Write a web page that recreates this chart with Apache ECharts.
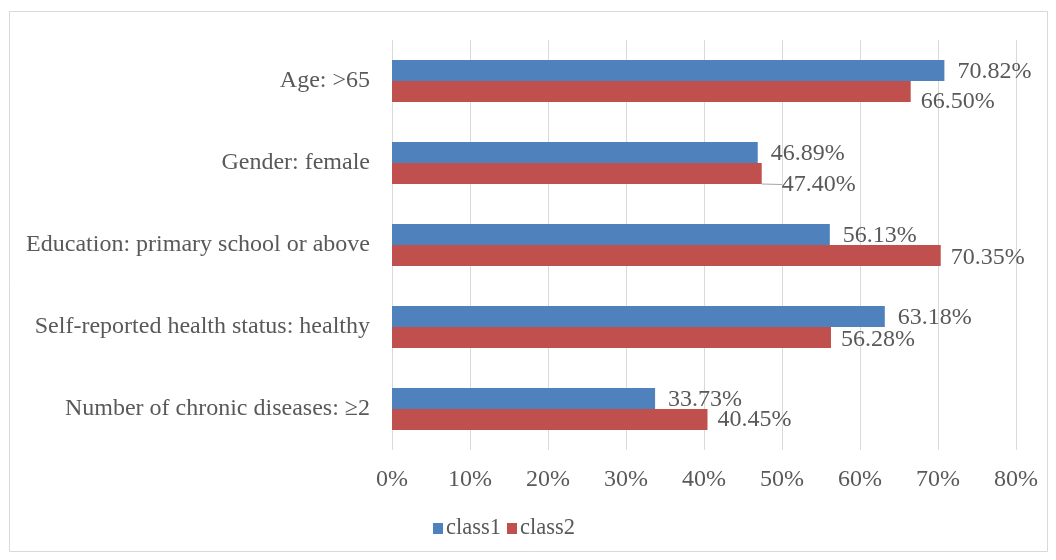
<!DOCTYPE html>
<html>
<head>
<meta charset="utf-8">
<script src="https://cdn.jsdelivr.net/npm/echarts@6/dist/echarts.min.js"></script>
<style>
html,body{margin:0;padding:0;background:#fff;}
#chart{width:1056px;height:560px;}
</style>
</head>
<body>
<div id="chart"></div>
<script>
const categories = [
  'Age: >65',
  'Gender: female',
  'Education: primary school or above',
  'Self-reported health status: healthy',
  'Number of chronic diseases: \u22652'
];
const class1 = [70.82, 46.89, 56.13, 63.18, 33.73];
const class2 = [66.50, 47.40, 70.35, 56.28, 40.45];
const xTicks = [0, 10, 20, 30, 40, 50, 60, 70, 80];

// label nudges (style only)
const class2LabelDy = [10, 11, 2, 2, 0];

const FONT = '"Liberation Serif", "Times New Roman", serif';
const TXT = '#595959';

const chart = echarts.init(document.getElementById('chart'), null, {renderer: 'canvas'});
chart.setOption({
  backgroundColor: '#ffffff',
  animation: false,
  graphic: [{
    type: 'rect',
    shape: {x: 9.5, y: 11.5, width: 1038, height: 540},
    style: {fill: 'none', stroke: '#d9d9d9', lineWidth: 1},
    silent: true, z: -1
  }],
  grid: {left: 392, right: 40, top: 40, bottom: 110, containLabel: false},
  legend: {
    data: ['class1', 'class2'],
    top: 512,
    left: 428,
    itemWidth: 10,
    itemHeight: 11,
    itemGap: 6,
    icon: 'rect',
    textStyle: {fontFamily: FONT, fontSize: 22.5, color: TXT, padding: [0, 0, 0, -2]}
  },
  xAxis: {
    type: 'value',
    min: xTicks[0],
    max: xTicks[xTicks.length - 1],
    interval: 10,
    axisLine: {show: false},
    axisTick: {show: false},
    splitLine: {show: true, lineStyle: {color: '#d9d9d9', width: 1}},
    axisLabel: {formatter: '{value}%', fontFamily: FONT, fontSize: 24, color: TXT, margin: 18}
  },
  yAxis: {
    type: 'category',
    inverse: true,
    data: categories,
    axisLine: {show: false},
    axisTick: {show: false},
    axisLabel: {fontFamily: FONT, fontSize: 24, color: TXT, margin: 22}
  },
  series: [
    {
      name: 'class1',
      type: 'bar',
      data: class1,
      barWidth: 21,
      barGap: '0%',
      itemStyle: {color: '#4F81BD'},
      label: {
        show: true, position: 'right', distance: 13, offset: [0, 1],
        formatter: p => p.value.toFixed(2) + '%',
        fontFamily: FONT, fontSize: 24, color: TXT
      }
    },
    {
      name: 'class2',
      type: 'bar',
      data: class2.map((v, i) => ({value: v, labelLine: {show: i === 1}})),
      barWidth: 21,
      barGap: '0%',
      itemStyle: {color: '#C0504D'},
      label: {
        show: true, position: 'right', distance: 10,
        formatter: p => p.value.toFixed(2) + '%',
        fontFamily: FONT, fontSize: 24, color: TXT
      },
      labelLine: {lineStyle: {color: '#a6a6a6', width: 1}},
      labelLayout: function (params) {
        return {dy: class2LabelDy[params.dataIndex], dx: params.dataIndex === 1 ? 10 : 0};
      }
    }
  ]
});
</script>
</body>
</html>
